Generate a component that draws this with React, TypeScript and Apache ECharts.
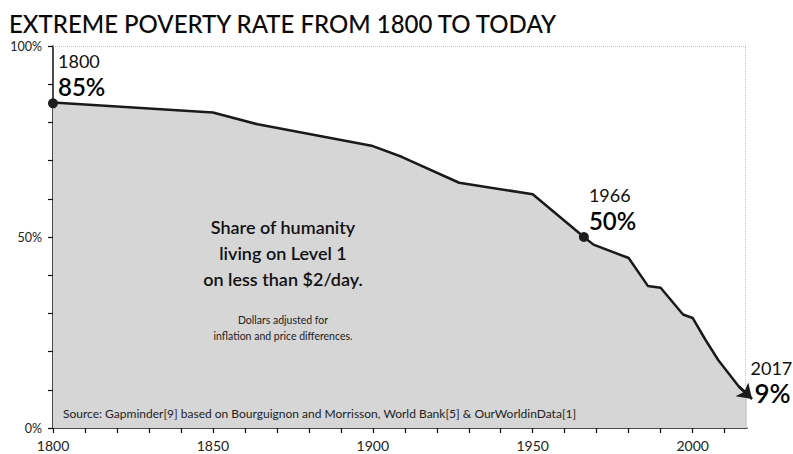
import React, { useEffect, useRef } from "react";
import * as echarts from "echarts";

const years = [1800, 1850, 1864, 1900, 1909, 1927, 1950, 1966, 1969, 1980, 1986, 1990, 1997, 2000, 2004, 2008, 2014.5, 2017];
const rates = [85.2, 82.6, 79.5, 73.8, 71.0, 64.2, 61.2, 50.0, 48.0, 44.5, 37.2, 36.7, 29.7, 28.8, 23.1, 17.8, 10.8, 9.0];
const arrowFrom = [2014.5, 10.8];
const arrowTo = [2018.6, 7.6];
const highlights = [
  { year: 1800, value: 85, label: "1800", pct: "85%" },
  { year: 1966, value: 50, label: "1966", pct: "50%" },
];
const endPoint = { year: 2017, value: 9, label: "2017", pct: "9%" };
const xTicks = [1800, 1850, 1900, 1950, 2000];
const yTicks = [0, 50, 100];

const FONT = "Lato, 'Open Sans', sans-serif";

export default function App() {
  const ref = useRef<HTMLDivElement>(null);
  useEffect(() => {
    if (!ref.current) return;
    const chart = echarts.init(ref.current, null, { renderer: "svg" });
    const lineData = years.map((y, i) => [y, rates[i]]);
    chart.setOption({
      animation: false,
      backgroundColor: "#ffffff",
      textStyle: { fontFamily: FONT },
      title: {
        text: "EXTREME POVERTY RATE FROM 1800 TO TODAY",
        left: 4,
        top: 6,
        textStyle: { fontFamily: FONT, fontSize: 24, fontWeight: 500, color: "#0a0a0a" },
      },
      grid: { left: 53, right: 46, top: 46, bottom: 26, containLabel: false },
      xAxis: {
        type: "value",
        min: 1800,
        max: 2017,
        interval: 10,
        axisLine: { lineStyle: { color: "#111", width: 1.5 } },
        axisTick: { length: 5, lineStyle: { color: "#111", width: 1.2 } },
        splitLine: { show: false },
        axisLabel: {
          margin: 10,
          fontSize: 14,
          color: "#222",
          fontFamily: FONT,
          showMaxLabel: false,
          formatter: (v: number) => (xTicks.includes(v) ? String(v) : ""),
        },
      },
      yAxis: {
        type: "value",
        min: 0,
        max: 100,
        interval: 10,
        axisLine: { show: true, lineStyle: { color: "#111", width: 1.5 } },
        axisTick: { show: true, length: 5, lineStyle: { color: "#111", width: 1.2 } },
        splitLine: { show: false },
        axisLabel: {
          margin: 11,
          fontSize: 12.5,
          color: "#222",
          fontFamily: FONT,
          formatter: (v: number) => (yTicks.includes(v) ? v + "%" : ""),
        },
      },
      graphic: [
        {
          type: "text",
          x: 283,
          y: 214,
          z: 10,
          style: {
            text: "Share of humanity\nliving on Level 1\non less than $2/day.",
            fontFamily: FONT,
            fontSize: 18,
            fontWeight: 600,
            lineHeight: 26,
            fill: "#111",
            textAlign: "center",
            textVerticalAlign: "top",
          },
        },
        {
          type: "text",
          x: 283,
          y: 312,
          z: 10,
          style: {
            text: "Dollars adjusted for\ninflation and price differences.",
            fontFamily: FONT,
            fontSize: 10.5,
            lineHeight: 16,
            fill: "#222",
            textAlign: "center",
            textVerticalAlign: "top",
          },
        },
        {
          type: "text",
          x: 63,
          y: 413,
          z: 10,
          style: {
            text: "Source: Gapminder[9] based on Bourguignon and Morrisson, World Bank[5] & OurWorldinData[1]",
            fontFamily: FONT,
            fontSize: 12,
            fill: "#222",
            textAlign: "left",
            textVerticalAlign: "middle",
          },
        },
      ],
      series: [
        {
          type: "line",
          data: lineData,
          showSymbol: false,
          symbol: "none",
          lineStyle: { color: "#1a1a1a", width: 2.5 },
          areaStyle: { color: "#d6d6d6", opacity: 1 },
          markLine: {
            silent: true,
            symbol: "none",
            label: { show: false },
            lineStyle: { color: "#c4c4c4", type: "dotted", width: 1 },
            data: [{ yAxis: 100 }, { xAxis: 2016.4 }],
          },
        },
        {
          type: "lines",
          coordinateSystem: "cartesian2d",
          clip: false,
          symbol: ["none", "arrow"],
          symbolSize: 14,
          lineStyle: { color: "#1a1a1a", width: 2.5, opacity: 1 },
          data: [{ coords: [arrowFrom, arrowTo] }],
          z: 5,
        },
        {
          type: "scatter",
          clip: false,
          z: 6,
          data: [
            ...highlights.map((h) => ({
              value: [h.year, h.value],
              symbol: "circle",
              symbolSize: 10,
              itemStyle: { color: "#1e1e1e", opacity: 1 },
              label: {
                show: true,
                position: [10, -48],
                formatter: `{y|${h.label}}\n{p|${h.pct}}`,
                rich: {
                  y: { fontFamily: FONT, fontSize: 18, lineHeight: 22, color: "#111" },
                  p: { fontFamily: FONT, fontSize: 24, fontWeight: 600, lineHeight: 28, color: "#000" },
                },
              },
            })),
            {
              value: [endPoint.year, endPoint.value],
              symbol: "circle",
              symbolSize: 1,
              itemStyle: { color: "rgba(0,0,0,0)", opacity: 1 },
              label: {
                show: true,
                position: [4, -37],
                formatter: `{y|${endPoint.label}}\n{p|${endPoint.pct}}`,
                rich: {
                  y: { fontFamily: FONT, fontSize: 18, lineHeight: 24, color: "#111" },
                  p: { fontFamily: FONT, fontSize: 26, fontWeight: 600, lineHeight: 26, color: "#000", padding: [0, 0, 0, 4] },
                },
              },
            },
          ],
        },
      ],
    });
    return () => chart.dispose();
  }, []);
  return (
    <div
      ref={ref}
      style={{ position: "fixed", left: 0, top: 0, width: 793, height: 454, background: "#fff" }}
    />
  );
}
